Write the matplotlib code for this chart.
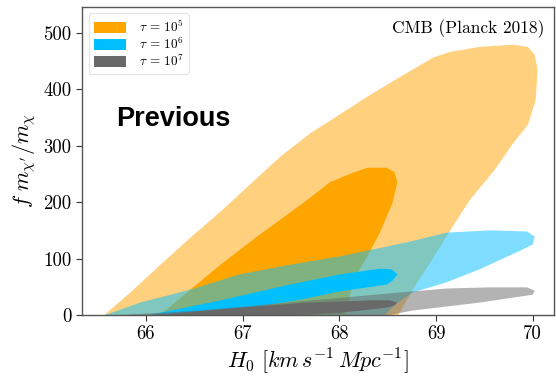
import matplotlib
matplotlib.use("Agg")
import matplotlib.pyplot as plt
from matplotlib.patches import Patch

plt.rcParams["font.family"] = "serif"
plt.rcParams["font.serif"] = ["cmr10"]
plt.rcParams["mathtext.fontset"] = "cm"
plt.rcParams["axes.unicode_minus"] = False
plt.rcParams["axes.formatter.use_mathtext"] = False

# Credible-region boundaries (H0, f m_chi'/m_chi), tau = 1e5
h0_t5_95 = [65.57, 65.84, 66.15, 66.46, 66.77, 67.10, 67.40, 67.70, 68.03, 68.29,
            68.63, 68.97, 69.14, 69.45, 69.80, 69.95, 70.02, 70.05, 70.03, 69.95,
            69.80, 69.61, 69.35, 69.15, 68.96, 68.76, 68.61]
f_t5_95 = [0, 40, 89, 137, 183, 235, 282, 322, 358, 387,
           422, 456, 466, 475, 479, 475, 461, 435, 381, 337,
           305, 258, 204, 151, 98, 45, 0]
h0_t5_68 = [66.15, 66.30, 66.46, 66.80, 67.15, 67.39, 67.67, 67.90, 68.14, 68.29,
            68.49, 68.57, 68.60, 68.55, 68.42, 68.29, 68.18, 68.11, 68.06]
f_t5_68 = [0, 22, 45, 93, 139, 169, 204, 235, 252, 261,
           261, 253, 235, 199, 146, 104, 72, 36, 0]

# tau = 1e6
h0_t6_95 = [65.58, 65.94, 66.46, 66.97, 67.49, 68.01, 68.73, 69.11, 69.56, 69.94,
            70.02, 70.00, 69.87, 69.45, 69.11, 68.76, 68.58, 68.47]
f_t6_95 = [0, 22, 45, 72, 89, 104, 130, 146, 150, 148,
           139, 125, 114, 81, 58, 40, 19, 0]
h0_t6_68 = [66.04, 66.15, 66.80, 67.49, 68.01, 68.42, 68.54, 68.60, 68.55, 68.49,
            68.01, 67.59, 67.08, 66.56, 66.35]
f_t6_68 = [0, 4, 27, 54, 72, 82, 81, 72, 61, 54,
           42, 27, 13, 3, 0]

# tau = 1e7
h0_t7_95 = [65.73, 66.56, 67.59, 68.63, 69.11, 69.56, 69.94, 70.02, 70.00, 69.45,
            68.76, 68.52]
f_t7_95 = [0, 8, 24, 40, 47, 49, 49, 43, 36, 22,
           8, 0]
h0_t7_68 = [66.04, 66.28, 66.97, 67.67, 68.35, 68.52, 68.60, 68.57, 68.49, 68.01,
            67.59]
f_t7_68 = [0, 3, 13, 22, 26, 26, 22, 17, 13, 4,
           0]

series = [
    (r"$\tau\,=\,10^5$", "#FFA500", h0_t5_95, f_t5_95, h0_t5_68, f_t5_68),
    (r"$\tau\,=\,10^6$", "#00BFFF", h0_t6_95, f_t6_95, h0_t6_68, f_t6_68),
    (r"$\tau\,=\,10^7$", "#696969", h0_t7_95, f_t7_95, h0_t7_68, f_t7_68),
]

fig = plt.figure(figsize=(5.56, 3.8), dpi=100)
ax = fig.add_axes([0.1475, 0.171, 0.849, 0.811])

handles = []
for label, color, x95, y95, x68, y68 in series:
    ax.fill(x95, y95, color=color, alpha=0.5, lw=0)
    ax.fill(x68, y68, color=color, alpha=1.0, lw=0)
    handles.append(Patch(facecolor=color, edgecolor="none", label=label))

ax.set_xlim(65.34, 70.22)
ax.set_ylim(0, 546)
ax.set_xticks([66, 67, 68, 69, 70])
ax.set_yticks([0, 100, 200, 300, 400, 500])
ax.tick_params(labelsize=13.5, length=4, color="#333333")
for sp in ax.spines.values():
    sp.set_color("#555555")
    sp.set_linewidth(1.0)

ax.set_xlabel(r"$H_0\ [km\,s^{-1}\,Mpc^{-1}]$", fontsize=16, labelpad=2)
ax.set_ylabel(r"$f\ m_{\chi^\prime}/m_{\chi}$", fontsize=16, labelpad=4)

ax.text(0.98, 0.96, "CMB (Planck 2018)", transform=ax.transAxes,
        ha="right", va="top", fontsize=12.5)
ax.text(0.072, 0.637, "Previous", transform=ax.transAxes, ha="left", va="center",
        fontsize=19.5, fontweight="bold", family="Liberation Sans")

leg = ax.legend(handles=handles, loc="upper left", fontsize=9.5,
                handlelength=2.4, handleheight=0.9, labelspacing=0.12,
                borderpad=0.4, handletextpad=1.0, frameon=True, fancybox=True)
leg.get_frame().set_edgecolor("#dddddd")
leg.get_frame().set_linewidth(0.8)

fig.savefig("out.png", dpi=100)
